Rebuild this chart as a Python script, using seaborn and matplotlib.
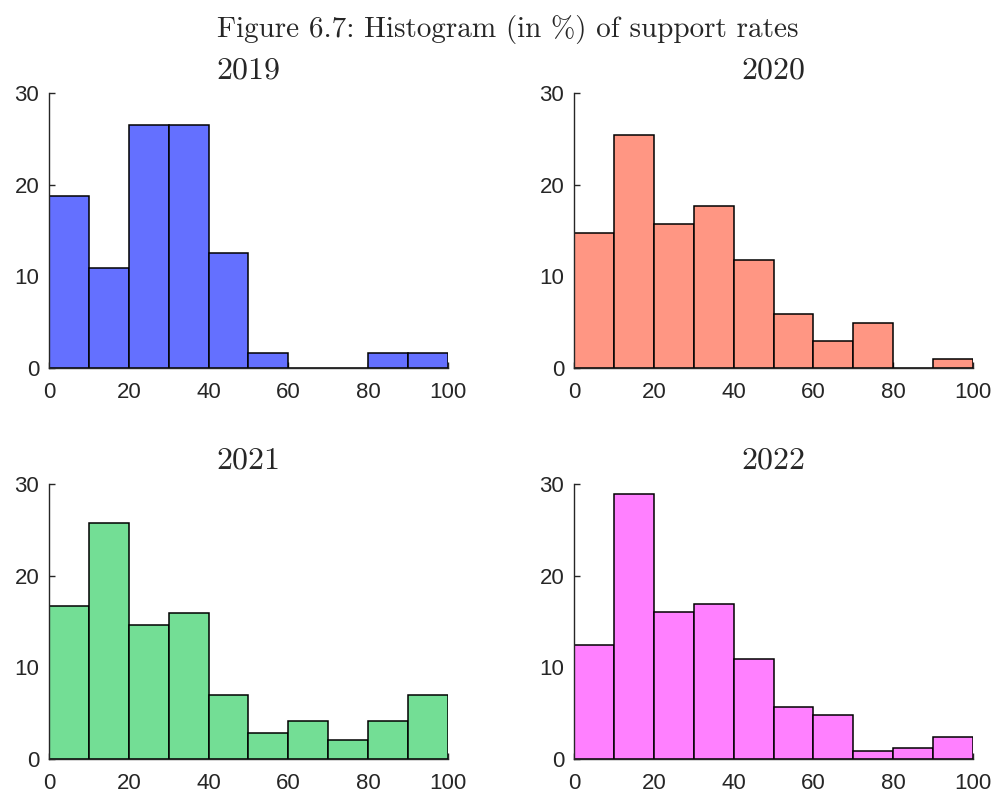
import numpy as np
import matplotlib
matplotlib.use('Agg')
import matplotlib.pyplot as plt
import seaborn as sns

# - data: share of respondents (in %) per 10-point bin of support rate - #
bin_edges = [0, 10, 20, 30, 40, 50, 60, 70, 80, 90, 100]
bin_mid = [5, 15, 25, 35, 45, 55, 65, 75, 85, 95]

pct_2019 = [18.75, 10.94, 26.56, 26.56, 12.50, 1.56, 0.0, 0.0, 1.56, 1.56]
pct_2020 = [14.71, 25.49, 15.69, 17.65, 11.76, 5.88, 2.94, 4.90, 0.0, 0.98]
pct_2021 = [16.67, 25.69, 14.58, 15.97, 6.94, 2.78, 4.17, 2.08, 4.17, 6.94]
pct_2022 = [12.45, 28.92, 16.06, 16.87, 10.84, 5.62, 4.82, 0.80, 1.20, 2.41]

years = ['2019', '2020', '2021', '2022']
series = [pct_2019, pct_2020, pct_2021, pct_2022]
colors = ['#6470ff', '#ff9683', '#73de95', '#ff80ff']

sns.set_style('ticks')
plt.rcParams['font.family'] = ['Liberation Sans', 'DejaVu Sans']

fig = plt.figure(figsize=(9.95, 7.94), dpi=100)

# axes boxes in figure fractions (left, bottom, width, height)
boxes = [(0.0492, 0.5369, 0.4010, 0.3456),
         (0.5769, 0.5369, 0.4010, 0.3456),
         (0.0492, 0.0444, 0.4010, 0.3460),
         (0.5769, 0.0444, 0.4010, 0.3460)]

for yr, vals, col, box in zip(years, series, colors, boxes):
    ax = fig.add_axes(box)
    sns.histplot(x=bin_mid, weights=vals, bins=bin_edges, ax=ax,
                 color=col, alpha=1, edgecolor='black', linewidth=1.1)
    ax.set_xlim(0, 100)
    ax.set_ylim(0, 30)
    ax.set_xticks([0, 20, 40, 60, 80, 100])
    ax.set_yticks([0, 10, 20, 30])
    ax.set_xlabel('')
    ax.set_ylabel('')
    sns.despine(ax=ax)
    for s in ['left', 'bottom']:
        ax.spines[s].set_color('#262626')
        ax.spines[s].set_linewidth(1.0)
    ax.tick_params(axis='both', direction='in', length=4, width=1.0,
                   color='#262626', labelcolor='#262626', labelsize=16)
    ax.tick_params(axis='x', pad=10)
    ax.tick_params(axis='y', pad=7)
    ax.set_title(yr, fontfamily='cmr10', fontsize=23, pad=11)

fig.text(0.51, 1 - 37 / 794, 'Figure 6.7: Histogram (in %) of support rates',
         fontfamily='cmr10', fontsize=21, ha='center', va='baseline')

fig.savefig('out.png', dpi=100)
